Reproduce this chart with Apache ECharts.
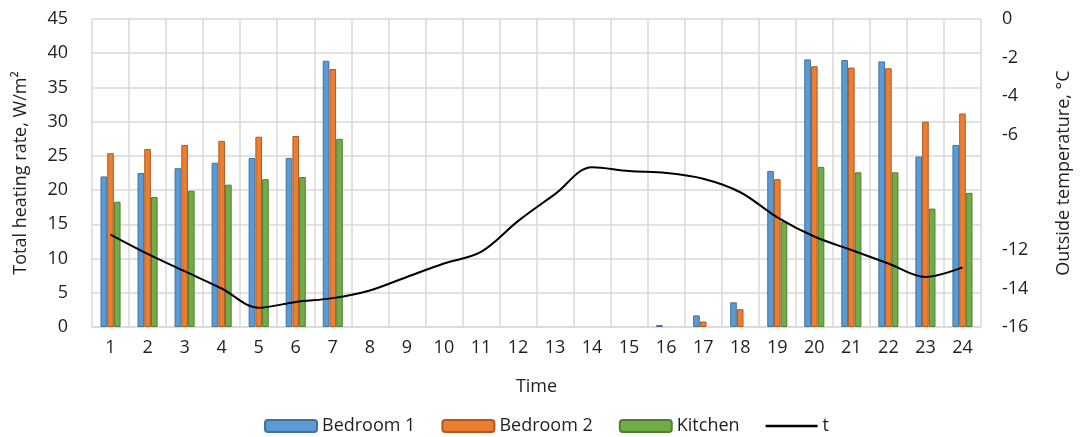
<!DOCTYPE html>
<html>
<head>
<meta charset="utf-8">
<script src="https://cdn.jsdelivr.net/npm/echarts@6/dist/echarts.min.js"></script>
<style>
html,body{margin:0;padding:0;background:#fff;}
#c{width:1081px;height:437px;}
</style>
</head>
<body>
<div id="c"></div>
<script>
var hours = ['1','2','3','4','5','6','7','8','9','10','11','12','13','14','15','16','17','18','19','20','21','22','23','24'];
var bedroom1 = [22.0, 22.5, 23.2, 24.0, 24.7, 24.7, 38.9, 0, 0, 0, 0, 0, 0, 0, 0, 0.3, 1.7, 3.6, 22.8, 39.1, 39.0, 38.8, 24.9, 26.6];
var bedroom2 = [25.4, 26.0, 26.6, 27.2, 27.8, 27.9, 37.7, 0, 0, 0, 0, 0, 0, 0, 0, 0, 0.8, 2.6, 21.6, 38.1, 37.9, 37.8, 30.0, 31.2];
var kitchen  = [18.3, 19.0, 19.9, 20.8, 21.6, 21.9, 27.5, 0, 0, 0, 0, 0, 0, 0, 0, 0, 0, 0, 15.4, 23.4, 22.6, 22.6, 17.3, 19.6];
var tempOut  = [-11.2, -12.2, -13.1, -14.0, -15.0, -14.7, -14.5, -14.1, -13.4, -12.7, -12.1, -10.5, -9.1, -7.7, -7.9, -8.0, -8.3, -9.0, -10.3, -11.3, -12.0, -12.7, -13.4, -12.9];
var seriesNames = ['Bedroom 1', 'Bedroom 2', 'Kitchen', 't'];
var hiddenRightLabels = [-8, -10];

var FONT = 'Open Sans';
var TXT = '#1f1f1f';
var FS = 18;
var chart = echarts.init(document.getElementById('c'));
function barSeries(name, data, fill, border) {
  return {
    name: name, type: 'bar', yAxisIndex: 0,
    data: data.map(function (v) { return v === 0 ? null : v; }),
    barWidth: 6.6, barGap: '2%',
    itemStyle: { color: fill, borderColor: border, borderWidth: 1 },
    emphasis: { disabled: true }
  };
}
chart.setOption({
  animation: false,
  textStyle: { fontFamily: FONT, color: TXT },
  grid: { left: 92, right: 100, top: 19, bottom: 110 },
  legend: {
    top: 412, left: 259,
    itemWidth: 52, itemHeight: 12, itemGap: 26,
    textStyle: { fontFamily: FONT, fontSize: FS, color: TXT },
    data: [
      { name: seriesNames[0] },
      { name: seriesNames[1] },
      { name: seriesNames[2] },
      { name: seriesNames[3], icon: 'path://M0,0 L40,0 L40,2 L0,2 Z', itemStyle: { color: '#000' } }
    ]
  },
  xAxis: {
    type: 'category', data: hours,
    name: 'Time', nameLocation: 'middle', nameGap: 51,
    nameTextStyle: { fontFamily: FONT, fontSize: FS, color: TXT },
    axisLine: { lineStyle: { color: '#d9d9d9', width: 1.5 } },
    axisTick: { show: false },
    axisLabel: { fontFamily: FONT, fontSize: FS, color: TXT, margin: 12 },
    splitLine: { show: true, lineStyle: { color: '#d9d9d9', width: 1.5 } }
  },
  yAxis: [
    {
      type: 'value', min: 0, max: 45, interval: 5,
      name: 'Total heating rate, W/m²', nameLocation: 'middle', nameGap: 62,
      nameTextStyle: { fontFamily: FONT, fontSize: FS, color: TXT },
      axisLine: { show: false }, axisTick: { show: false },
      axisLabel: { fontFamily: FONT, fontSize: FS, color: TXT, margin: 24 },
      splitLine: { show: true, lineStyle: { color: '#d9d9d9', width: 1.5 } }
    },
    {
      type: 'value', min: -16, max: 0, interval: 2, position: 'right',
      name: 'Outside temperature, °C', nameLocation: 'middle', nameGap: 74,
      nameTextStyle: { fontFamily: FONT, fontSize: FS, color: TXT },
      axisLine: { show: false }, axisTick: { show: false },
      axisLabel: {
        fontFamily: FONT, fontSize: FS, color: TXT, margin: 21, align: 'left',
        formatter: function (v) { return hiddenRightLabels.indexOf(v) >= 0 ? '' : String(v); }
      },
      splitLine: { show: false }
    }
  ],
  series: [
    barSeries(seriesNames[0], bedroom1, '#5B9BD5', '#41719C'),
    barSeries(seriesNames[1], bedroom2, '#ED7D31', '#AE5A21'),
    barSeries(seriesNames[2], kitchen, '#70AD47', '#507E32'),
    {
      name: seriesNames[3], type: 'line', yAxisIndex: 1, data: tempOut,
      smooth: 0.35, symbol: 'none',
      lineStyle: { color: '#000', width: 2 },
      itemStyle: { color: '#000' },
      emphasis: { disabled: true }
    }
  ]
});
</script>
</body>
</html>
